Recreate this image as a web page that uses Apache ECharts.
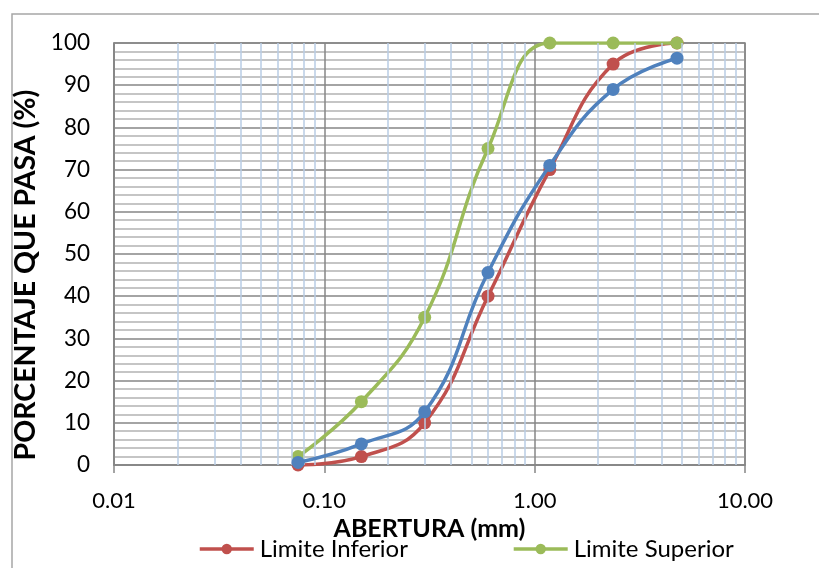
<!DOCTYPE html>
<html>
<head>
<meta charset="utf-8">
<script src="https://cdn.jsdelivr.net/npm/echarts@6/dist/echarts.min.js"></script>
<style>
html,body{margin:0;padding:0;background:#fff;}
#chart{width:819px;height:568px;}
</style>
</head>
<body>
<div id="chart"></div>
<script>
// Sieve openings (mm)
var aberturas = [0.075, 0.15, 0.3, 0.6, 1.18, 2.36, 4.75];
// Percent passing
var limiteInferior = [0, 2, 10, 40, 70, 95, 100];
var limiteSuperior = [2, 15, 35, 75, 100, 100, 100];
var muestra = [0.6, 5, 12.6, 45.6, 71, 89, 96.4];
var seriesNames = ['Limite Inferior', 'Limite Superior', 'Muestra'];
var xTitle = 'ABERTURA (mm)';
var yTitle = 'PORCENTAJE QUE PASA (%)';
// minor log grid lines (2..9 within each decade)
var decades = [0.01, 0.1, 1];
var multiples = [2, 3, 4, 5, 6, 7, 8, 9];

var minorX = [];
decades.forEach(function (d) {
  multiples.forEach(function (k) { minorX.push(+(k * d).toPrecision(3)); });
});

function pairs(ys) {
  return aberturas.map(function (x, i) { return [x, ys[i]]; });
}

var FONT = 'Lato';
var chart = echarts.init(document.getElementById('chart'), null, {renderer: 'canvas'});

function lineSeries(name, data, color, z) {
  return {
    name: name,
    type: 'line',
    data: pairs(data),
    smooth: 0.45,
    symbol: 'circle',
    symbolSize: 13,
    z: z,
    lineStyle: {color: color, width: 3.5},
    itemStyle: {color: color},
    emphasis: {disabled: true},
    animation: false
  };
}

chart.setOption({
  animation: false,
  backgroundColor: '#ffffff',
  textStyle: {fontFamily: FONT},
  graphic: [{
    type: 'rect',
    shape: {x: 12, y: 14, width: 900, height: 700},
    style: {fill: 'none', stroke: '#a6a6a6', lineWidth: 1.5},
    silent: true,
    z: -10
  }],
  grid: {left: 114, right: 74, top: 43, bottom: 103, show: true, borderColor: '#868686', borderWidth: 1.5, backgroundColor: 'transparent'},
  legend: {
    data: ['Limite Inferior', 'Limite Superior'],
    left: 198,
    top: 537,
    padding: 0,
    itemWidth: 54,
    itemHeight: 13,
    itemGap: 104,
    lineStyle: {width: 3.5},
    textStyle: {fontFamily: FONT, fontSize: 24, color: '#000', padding: [0, 0, 0, 1]},
    selectedMode: false
  },
  xAxis: {
    type: 'log',
    logBase: 10,
    min: 0.01,
    max: 10,
    name: xTitle,
    nameLocation: 'middle',
    nameGap: 42,
    nameTextStyle: {fontFamily: FONT, fontSize: 25, fontWeight: 'bold', color: '#000'},
    axisLine: {show: true, lineStyle: {color: '#868686', width: 1.5}},
    axisTick: {show: true, length: 8, lineStyle: {color: '#868686', width: 1.5}},
    axisLabel: {
      fontFamily: FONT, fontSize: 22, color: '#000', margin: 25,
      formatter: function (v) { return Number(v).toFixed(2); }
    },
    splitLine: {show: true, lineStyle: {color: '#868686', width: 1.5}},
    minorTick: {show: false},
    minorSplitLine: {show: false}
  },
  yAxis: {
    type: 'value',
    min: 0,
    max: 100,
    interval: 10,
    name: yTitle,
    nameLocation: 'middle',
    nameGap: 62,
    nameTextStyle: {fontFamily: FONT, fontSize: 28.5, fontWeight: 'bold', color: '#000', padding: [0, 42, 0, 0]},
    axisLine: {show: true, lineStyle: {color: '#868686', width: 1.5}},
    axisTick: {show: false},
    axisLabel: {fontFamily: FONT, fontSize: 22.5, color: '#000', margin: 24},
    splitLine: {show: true, lineStyle: {color: '#868686', width: 1.5}},
    minorTick: {show: false, splitNumber: 5},
    minorSplitLine: {show: true, lineStyle: {color: '#b3b3b3', width: 1.5}}
  },
  series: [
    {
      name: 'minorGrid',
      type: 'line',
      data: [],
      z: 0,
      silent: true,
      markLine: {
        silent: true,
        symbol: ['none', 'none'],
        label: {show: false},
        animation: false,
        lineStyle: {color: '#b9cde5', width: 1.5, type: 'solid'},
        data: minorX.map(function (x) { return {xAxis: x}; })
      }
    },
    lineSeries(seriesNames[0], limiteInferior, '#c0504d', 3),
    lineSeries(seriesNames[1], limiteSuperior, '#9bbb59', 4),
    lineSeries(seriesNames[2], muestra, '#4f81bd', 5)
  ]
});
</script>
</body>
</html>
